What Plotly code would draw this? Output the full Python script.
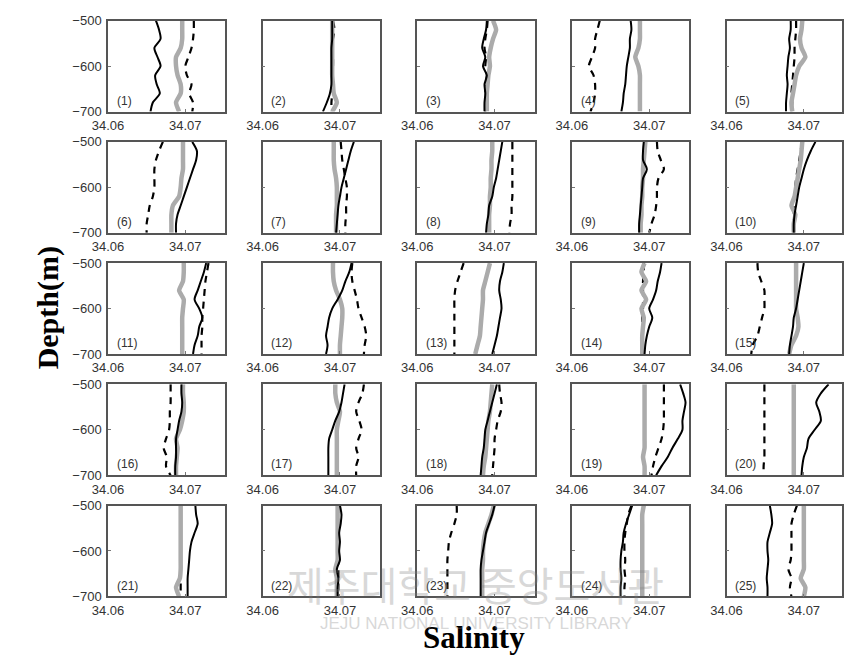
import plotly.graph_objects as go

# ---------------- data ----------------
depth = [-500, -520, -540, -560, -580, -600, -620, -640, -660, -680, -700]
x_tick_vals = [34.06, 34.07]
x_tick_text = ["34.06", "34.07"]
y_tick_vals = [-500, -600, -700]
panel_labels = [f"({i})" for i in range(1, 26)]

solid_profiles = [
    [34.0662, 34.0666, 34.0668, 34.0660, 34.0664, 34.0668, 34.0661, 34.0663, 34.0667, 34.0658, 34.0655],
    [34.0690, 34.0690, 34.0690, 34.0689, 34.0689, 34.0689, 34.0689, 34.0689, 34.0687, 34.0683, 34.0678],
    [34.0690, 34.0689, 34.0686, 34.0684, 34.0688, 34.0685, 34.0690, 34.0687, 34.0688, 34.0687, 34.0687],
    [34.0676, 34.0677, 34.0675, 34.0675, 34.0673, 34.0671, 34.0670, 34.0669, 34.0667, 34.0666, 34.0664],
    [34.0683, 34.0683, 34.0681, 34.0682, 34.0680, 34.0679, 34.0678, 34.0679, 34.0678, 34.0677, 34.0677],
    [34.0709, 34.0715, 34.0714, 34.0710, 34.0706, 34.0702, 34.0698, 34.0694, 34.0690, 34.0688, 34.0688],
    [34.0718, 34.0714, 34.0711, 34.0708, 34.0705, 34.0702, 34.0700, 34.0698, 34.0697, 34.0696, 34.0695],
    [34.0710, 34.0708, 34.0706, 34.0704, 34.0702, 34.0699, 34.0697, 34.0693, 34.0692, 34.0690, 34.0689],
    [34.0693, 34.0692, 34.0692, 34.0697, 34.0692, 34.0691, 34.0690, 34.0689, 34.0688, 34.0687, 34.0687],
    [34.0715, 34.0709, 34.0704, 34.0700, 34.0697, 34.0694, 34.0692, 34.0690, 34.0688, 34.0687, 34.0687],
    [34.0727, 34.0724, 34.0720, 34.0716, 34.0712, 34.0718, 34.0722, 34.0718, 34.0716, 34.0712, 34.0710],
    [34.0715, 34.0712, 34.0707, 34.0703, 34.0697, 34.0690, 34.0686, 34.0684, 34.0682, 34.0684, 34.0682],
    [34.0712, 34.0710, 34.0707, 34.0706, 34.0708, 34.0709, 34.0707, 34.0705, 34.0703, 34.0700, 34.0697],
    [34.0716, 34.0714, 34.0711, 34.0709, 34.0705, 34.0700, 34.0704, 34.0700, 34.0697, 34.0695, 34.0694],
    [34.0700, 34.0698, 34.0696, 34.0694, 34.0692, 34.0690, 34.0687, 34.0686, 34.0684, 34.0682, 34.0681],
    [34.0695, 34.0695, 34.0696, 34.0695, 34.0692, 34.0690, 34.0688, 34.0688, 34.0688, 34.0687, 34.0687],
    [34.0706, 34.0704, 34.0702, 34.0699, 34.0694, 34.0690, 34.0686, 34.0685, 34.0685, 34.0685, 34.0685],
    [34.0703, 34.0700, 34.0697, 34.0694, 34.0691, 34.0688, 34.0687, 34.0686, 34.0684, 34.0683, 34.0682],
    [34.0740, 34.0744, 34.0747, 34.0745, 34.0743, 34.0743, 34.0737, 34.0730, 34.0724, 34.0716, 34.0709],
    [34.0732, 34.0722, 34.0716, 34.0720, 34.0722, 34.0714, 34.0706, 34.0704, 34.0700, 34.0698, 34.0697],
    [34.0713, 34.0714, 34.0716, 34.0712, 34.0708, 34.0706, 34.0705, 34.0704, 34.0703, 34.0703, 34.0703],
    [34.0700, 34.0702, 34.0701, 34.0699, 34.0700, 34.0699, 34.0700, 34.0696, 34.0698, 34.0697, 34.0697],
    [34.0700, 34.0697, 34.0693, 34.0689, 34.0687, 34.0685, 34.0683, 34.0682, 34.0682, 34.0682, 34.0682],
    [34.0678, 34.0674, 34.0670, 34.0667, 34.0666, 34.0664, 34.0663, 34.0663, 34.0664, 34.0663, 34.0663],
    [34.0656, 34.0658, 34.0659, 34.0656, 34.0653, 34.0653, 34.0654, 34.0653, 34.0652, 34.0653, 34.0653],
]

dashed_profiles = [
    [34.0711, 34.0711, 34.0710, 34.0708, 34.0704, 34.0700, 34.0702, 34.0708, 34.0705, 34.0710, 34.0709],
    [34.0691, 34.0693, 34.0691, 34.0690, 34.0691, 34.0691, 34.0690, 34.0690, 34.0690, 34.0689, 34.0689],
    [34.0691, 34.0690, 34.0688, 34.0687, 34.0689, 34.0688, 34.0690, 34.0688, 34.0688, 34.0688, 34.0688],
    [34.0636, 34.0633, 34.0630, 34.0630, 34.0626, 34.0622, 34.0628, 34.0630, 34.0630, 34.0628, 34.0624],
    [34.0690, 34.0690, 34.0689, 34.0688, 34.0688, 34.0687, 34.0686, 34.0685, 34.0684, 34.0685, 34.0684],
    [34.0671, 34.0666, 34.0662, 34.0660, 34.0660, 34.0660, 34.0658, 34.0654, 34.0652, 34.0650, 34.0650],
    [34.0701, 34.0702, 34.0703, 34.0705, 34.0707, 34.0709, 34.0709, 34.0708, 34.0708, 34.0707, 34.0707],
    [34.0723, 34.0723, 34.0723, 34.0723, 34.0723, 34.0723, 34.0723, 34.0722, 34.0722, 34.0720, 34.0719],
    [34.0710, 34.0711, 34.0715, 34.0719, 34.0712, 34.0710, 34.0710, 34.0709, 34.0707, 34.0703, 34.0700],
    [34.0697, 34.0696, 34.0694, 34.0692, 34.0690, 34.0689, 34.0688, 34.0687, 34.0687, 34.0687, 34.0687],
    [34.0730, 34.0728, 34.0726, 34.0725, 34.0724, 34.0723, 34.0722, 34.0722, 34.0721, 34.0721, 34.0721],
    [34.0716, 34.0715, 34.0716, 34.0719, 34.0722, 34.0724, 34.0728, 34.0732, 34.0734, 34.0732, 34.0731],
    [34.0660, 34.0656, 34.0652, 34.0649, 34.0648, 34.0648, 34.0648, 34.0648, 34.0648, 34.0648, 34.0648],
    [34.0693, 34.0693, 34.0692, 34.0692, 34.0692, 34.0692, 34.0691, 34.0691, 34.0691, 34.0691, 34.0691],
    [34.0640, 34.0641, 34.0645, 34.0649, 34.0649, 34.0649, 34.0646, 34.0643, 34.0640, 34.0634, 34.0632],
    [34.0681, 34.0681, 34.0681, 34.0680, 34.0680, 34.0679, 34.0675, 34.0672, 34.0676, 34.0675, 34.0681],
    [34.0731, 34.0729, 34.0724, 34.0721, 34.0725, 34.0728, 34.0724, 34.0721, 34.0724, 34.0721, 34.0721],
    [34.0706, 34.0707, 34.0709, 34.0708, 34.0704, 34.0702, 34.0700, 34.0700, 34.0699, 34.0698, 34.0697],
    [34.0719, 34.0719, 34.0719, 34.0719, 34.0719, 34.0718, 34.0716, 34.0712, 34.0708, 34.0705, 34.0703],
    [34.0649, 34.0649, 34.0649, 34.0649, 34.0649, 34.0649, 34.0649, 34.0649, 34.0649, 34.0648, 34.0648],
    [34.0694, 34.0694, 34.0694, 34.0694, 34.0694, 34.0694, 34.0694, 34.0694, 34.0694, 34.0694, 34.0694],
    [34.0698, 34.0698, 34.0698, 34.0698, 34.0698, 34.0698, 34.0698, 34.0698, 34.0698, 34.0698, 34.0698],
    [34.0651, 34.0651, 34.0648, 34.0644, 34.0641, 34.0640, 34.0639, 34.0639, 34.0639, 34.0639, 34.0639],
    [34.0677, 34.0673, 34.0671, 34.0669, 34.0668, 34.0668, 34.0669, 34.0668, 34.0669, 34.0668, 34.0668],
    [34.0691, 34.0687, 34.0684, 34.0684, 34.0684, 34.0684, 34.0683, 34.0680, 34.0684, 34.0682, 34.0684],
]

gray_profiles = [
    [34.0696, 34.0696, 34.0696, 34.0694, 34.0688, 34.0688, 34.0690, 34.0694, 34.0694, 34.0688, 34.0692],
    [34.0690, 34.0690, 34.0690, 34.0690, 34.0690, 34.0690, 34.0690, 34.0691, 34.0692, 34.0696, 34.0690],
    [34.0698, 34.0702, 34.0698, 34.0695, 34.0693, 34.0694, 34.0692, 34.0691, 34.0690, 34.0690, 34.0690],
    [34.0688, 34.0688, 34.0688, 34.0686, 34.0682, 34.0686, 34.0688, 34.0688, 34.0688, 34.0688, 34.0688],
    [34.0698, 34.0697, 34.0695, 34.0697, 34.0702, 34.0694, 34.0690, 34.0688, 34.0686, 34.0684, 34.0685],
    [34.0697, 34.0697, 34.0697, 34.0697, 34.0695, 34.0694, 34.0692, 34.0684, 34.0682, 34.0682, 34.0682],
    [34.0692, 34.0692, 34.0692, 34.0693, 34.0695, 34.0696, 34.0696, 34.0696, 34.0695, 34.0695, 34.0695],
    [34.0697, 34.0697, 34.0696, 34.0696, 34.0695, 34.0695, 34.0694, 34.0694, 34.0693, 34.0693, 34.0693],
    [34.0695, 34.0694, 34.0693, 34.0692, 34.0692, 34.0691, 34.0691, 34.0690, 34.0690, 34.0689, 34.0689],
    [34.0698, 34.0697, 34.0696, 34.0694, 34.0692, 34.0690, 34.0688, 34.0684, 34.0689, 34.0687, 34.0687],
    [34.0698, 34.0698, 34.0697, 34.0692, 34.0698, 34.0697, 34.0696, 34.0696, 34.0696, 34.0696, 34.0696],
    [34.0691, 34.0691, 34.0692, 34.0695, 34.0700, 34.0703, 34.0703, 34.0702, 34.0701, 34.0700, 34.0700],
    [34.0694, 34.0691, 34.0688, 34.0685, 34.0685, 34.0684, 34.0683, 34.0682, 34.0681, 34.0678, 34.0675],
    [34.0694, 34.0690, 34.0696, 34.0690, 34.0696, 34.0690, 34.0693, 34.0692, 34.0691, 34.0691, 34.0691],
    [34.0690, 34.0690, 34.0690, 34.0690, 34.0690, 34.0690, 34.0692, 34.0693, 34.0690, 34.0684, 34.0681],
    [34.0697, 34.0697, 34.0698, 34.0698, 34.0696, 34.0693, 34.0688, 34.0690, 34.0689, 34.0688, 34.0688],
    [34.0694, 34.0694, 34.0696, 34.0700, 34.0698, 34.0696, 34.0696, 34.0696, 34.0696, 34.0696, 34.0696],
    [34.0697, 34.0696, 34.0695, 34.0694, 34.0692, 34.0691, 34.0690, 34.0689, 34.0688, 34.0686, 34.0685],
    [34.0694, 34.0694, 34.0694, 34.0694, 34.0694, 34.0694, 34.0694, 34.0694, 34.0692, 34.0694, 34.0694],
    [34.0687, 34.0687, 34.0687, 34.0687, 34.0687, 34.0687, 34.0687, 34.0687, 34.0687, 34.0687, 34.0687],
    [34.0694, 34.0694, 34.0694, 34.0694, 34.0694, 34.0694, 34.0694, 34.0694, 34.0693, 34.0688, 34.0692],
    [34.0697, 34.0697, 34.0697, 34.0697, 34.0697, 34.0697, 34.0697, 34.0694, 34.0696, 34.0696, 34.0696],
    [34.0699, 34.0696, 34.0692, 34.0688, 34.0686, 34.0685, 34.0685, 34.0684, 34.0684, 34.0684, 34.0684],
    [34.0693, 34.0691, 34.0691, 34.0691, 34.0691, 34.0691, 34.0691, 34.0691, 34.0691, 34.0691, 34.0691],
    [34.0700, 34.0700, 34.0700, 34.0700, 34.0700, 34.0700, 34.0700, 34.0700, 34.0696, 34.0702, 34.0700],
]

# ---------------- layout geometry ----------------
W, H = 844, 666
lefts = [94, 252, 410, 568, 726]
tops = [14, 138, 262, 386, 510]
PW, PH = 120, 93
PX_PER_UNIT = 7900.0

fig = go.Figure()
annotations = []
tick_font = dict(family="Liberation Sans, Arial, sans-serif", size=13, color="#333333")

for i in range(25):
    r, c = divmod(i, 5)
    n = i + 1
    xa = "x" if n == 1 else f"x{n}"
    ya = "y" if n == 1 else f"y{n}"
    xk = "xaxis" if n == 1 else f"xaxis{n}"
    yk = "yaxis" if n == 1 else f"yaxis{n}"
    x0 = lefts[c]
    x1 = min(x0 + PW, W)
    yb = H - tops[r] - PH
    yt = H - tops[r]

    fig.add_trace(go.Scatter(x=dashed_profiles[i], y=depth, xaxis=xa, yaxis=ya, mode="lines",
                             line=dict(color="black", width=2.2, dash="7px,6px", shape="spline", smoothing=0.8),
                             showlegend=False, hoverinfo="skip"))
    fig.add_trace(go.Scatter(x=gray_profiles[i], y=depth, xaxis=xa, yaxis=ya, mode="lines",
                             line=dict(color="#ababab", width=4.5, shape="spline", smoothing=0.6),
                             showlegend=False, hoverinfo="skip"))
    fig.add_trace(go.Scatter(x=solid_profiles[i], y=depth, xaxis=xa, yaxis=ya, mode="lines",
                             line=dict(color="black", width=2, shape="spline", smoothing=0.8),
                             showlegend=False, hoverinfo="skip"))

    fig.layout[xk] = dict(
        domain=[x0 / W, x1 / W], anchor=ya,
        range=[34.06, 34.06 + (x1 - x0) / PX_PER_UNIT],
        tickmode="array", tickvals=x_tick_vals, ticktext=x_tick_text,
        ticks="inside", ticklen=3, tickcolor="#777",
        showline=True, linecolor="#555555", linewidth=1.5, mirror=True,
        showgrid=False, zeroline=False, tickfont=tick_font, ticklabelstandoff=1,
    )
    fig.layout[yk] = dict(
        domain=[yb / H, yt / H], anchor=xa,
        range=[-700, -500],
        tickmode="array", tickvals=y_tick_vals,
        showticklabels=(c == 0),
        ticks="inside", ticklen=3, tickcolor="#777",
        showline=True, linecolor="#555555", linewidth=1.5, mirror=True,
        showgrid=False, zeroline=False, tickfont=tick_font, ticklabelstandoff=2,
    )

    annotations.append(dict(
        text=panel_labels[i], xref="paper", yref="paper",
        x=(x0 + 7) / W, y=(H - (tops[r] + PH - 11)) / H,
        xanchor="left", yanchor="middle", showarrow=False,
        font=dict(family="Liberation Sans, Arial, sans-serif", size=12, color="#333333"),
    ))

# axis titles
annotations.append(dict(text="<b>Depth(m)</b>", xref="paper", yref="paper",
                        x=33 / W, y=(H - 308) / H, textangle=-90, showarrow=False,
                        xanchor="center", yanchor="middle",
                        font=dict(family="Liberation Serif, Times New Roman, serif", size=30, color="black")))
annotations.append(dict(text="<b>Salinity</b>", xref="paper", yref="paper",
                        x=468 / W, y=(H - 645) / H, showarrow=False,
                        xanchor="center", yanchor="middle",
                        font=dict(family="Liberation Serif, Times New Roman, serif", size=31, color="black")))

# faint library watermark
annotations.append(dict(text="제주대학교 중앙도서관", xref="paper", yref="paper",
                        x=470 / W, y=(H - 590) / H, showarrow=False,
                        xanchor="center", yanchor="middle", opacity=0.3,
                        font=dict(family="Noto Sans CJK KR", size=40, color="#808080")))
annotations.append(dict(text="JEJU NATIONAL UNIVERSITY LIBRARY", xref="paper", yref="paper",
                        x=470 / W, y=(H - 631) / H, showarrow=False,
                        xanchor="center", yanchor="middle", opacity=0.3,
                        font=dict(family="Liberation Sans, Arial, sans-serif", size=17, color="#808080")))

fig.update_layout(
    width=W, height=H, autosize=False,
    margin=dict(l=0, r=0, t=0, b=0),
    paper_bgcolor="white", plot_bgcolor="white",
    annotations=annotations,
)

fig.write_html("out.html")
